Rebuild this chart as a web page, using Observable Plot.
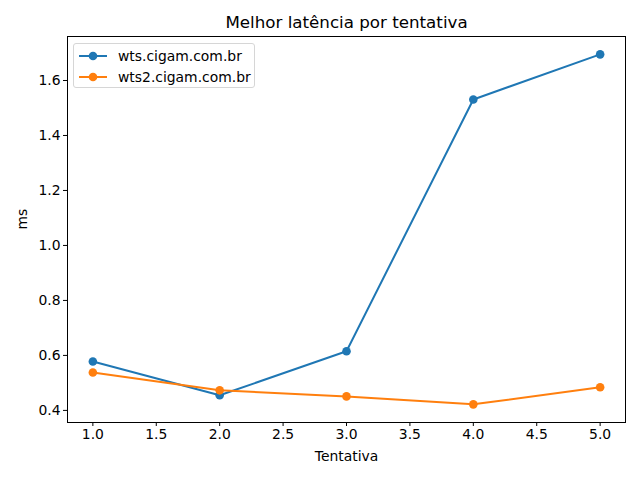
<!DOCTYPE html>
<html>
<head>
<meta charset="utf-8">
<script src="https://cdn.jsdelivr.net/npm/d3@7"></script>
<script src="https://cdn.jsdelivr.net/npm/@observablehq/plot@0.6"></script>
<style>
  body { margin: 0; background: #fff; }
  #wrap { position: relative; width: 640px; height: 480px; font-family: "DejaVu Sans", sans-serif; }
  #legend { position: absolute; left: 73px; top: 43px; width: 182px; height: 45px; box-sizing: border-box;
    border: 1px solid #d6d6d6; border-radius: 3px; background: rgba(255,255,255,0.8); font-size: 13.9px; }
  .row { position: absolute; left: 0; height: 20px; display: flex; align-items: center; }
  .row span { position: absolute; left: 44px; white-space: nowrap; color: #000; }
</style>
</head>
<body>
<div id="wrap"></div>
<script>
const tentativas = [1, 2, 3, 4, 5];
const seriesNames = ["wts.cigam.com.br", "wts2.cigam.com.br"];
const wtsValues = [0.578, 0.455, 0.615, 1.531, 1.695];
const wts2Values = [0.538, 0.473, 0.451, 0.422, 0.484];
const colors = ["#1f77b4", "#ff7f0e"];
const xTicks = [1.0, 1.5, 2.0, 2.5, 3.0, 3.5, 4.0, 4.5, 5.0];
const yTicks = [0.4, 0.6, 0.8, 1.0, 1.2, 1.4, 1.6];

const data = [];
[wtsValues, wts2Values].forEach((vals, si) => {
  vals.forEach((v, i) => data.push({ serie: seriesNames[si], x: tentativas[i], y: v }));
});

const plot = Plot.plot({
  width: 640,
  height: 480,
  marginLeft: 67,
  marginRight: 15,
  marginTop: 36,
  marginBottom: 58,
  style: { fontFamily: "DejaVu Sans, sans-serif", fontSize: "13.9px", color: "#000", background: "#fff" },
  x: { domain: [0.8, 5.2], ticks: xTicks, tickFormat: d3.format(".1f"), label: null, tickSize: 4, tickPadding: 3 },
  y: { domain: [0.356, 1.76], ticks: yTicks, tickFormat: d3.format(".1f"), label: null, tickSize: 4, tickPadding: 3 },
  color: { domain: seriesNames, range: colors },
  marks: [
    Plot.axisX({ ticks: xTicks, tickFormat: d3.format(".1f"), tickSize: 4, tickPadding: 3, label: null, fontSize: 13.9 }),
    Plot.axisY({ ticks: yTicks, tickFormat: d3.format(".1f"), tickSize: 4, tickPadding: 3, label: null, fontSize: 13.9 }),
    Plot.line(data, { x: "x", y: "y", z: "serie", stroke: "serie", strokeWidth: 2 }),
    Plot.dot(data, { x: "x", y: "y", fill: "serie", r: 4.3 }),
    Plot.frame({ stroke: "#000", strokeWidth: 1 }),
    Plot.text(["Melhor latência por tentativa"], { frameAnchor: "top", dy: -9, lineAnchor: "bottom", fontSize: 16.7, fill: "#000" }),
    Plot.text(["Tentativa"], { frameAnchor: "bottom", dy: 38, fontSize: 13.9, fill: "#000" }),
    Plot.text(["ms"], { frameAnchor: "left", dx: -45, rotate: -90, fontSize: 13.9, fill: "#000" })
  ]
});

const wrap = document.getElementById("wrap");
wrap.appendChild(plot);

const legend = document.createElement("div");
legend.id = "legend";
seriesNames.forEach((name, i) => {
  const row = document.createElement("div");
  row.className = "row";
  row.style.top = (2 + i * 21) + "px";
  row.innerHTML = `<svg width="40" height="20" style="position:absolute;left:0;top:0">
      <line x1="5" x2="33" y1="10" y2="10" stroke="${colors[i]}" stroke-width="2"/>
      <circle cx="19" cy="10" r="4.3" fill="${colors[i]}"/></svg><span>${name}</span>`;
  legend.appendChild(row);
});
wrap.appendChild(legend);
</script>
</body>
</html>
